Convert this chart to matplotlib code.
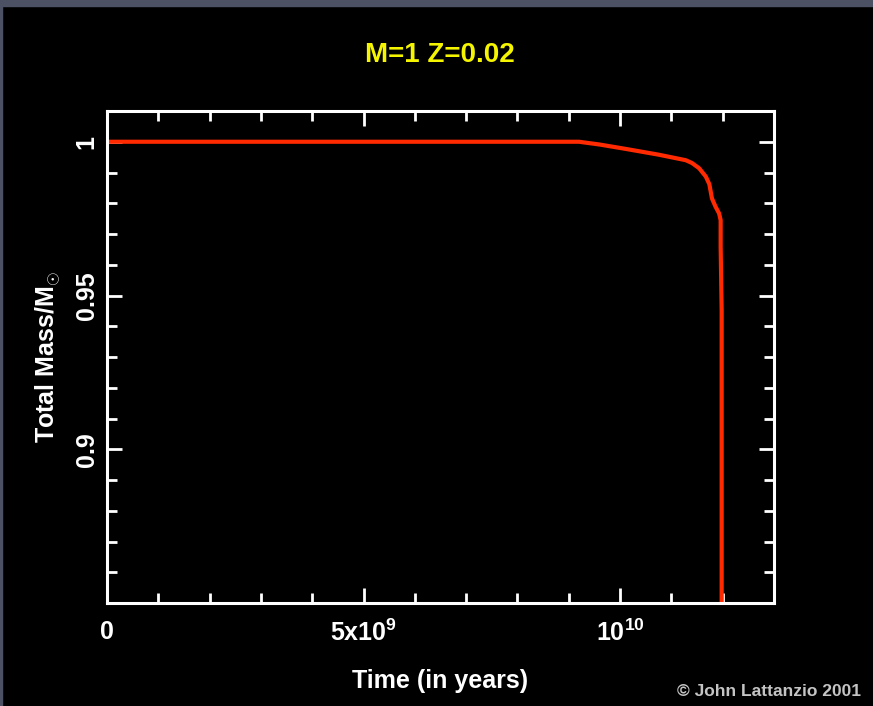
import numpy as np
import matplotlib
matplotlib.use("Agg")
import matplotlib.pyplot as plt
from matplotlib.patches import Rectangle
from matplotlib.ticker import MultipleLocator, FixedLocator, FixedFormatter

# mass loss of a 1 Msun, Z=0.02 star
time_yr = [0.0, 9.2e9, 9.6e9, 10.1e9, 10.75e9, 11.28e9, 11.4e9, 11.54e9,
           11.67e9, 11.74e9, 11.79e9, 11.86e9, 11.93e9, 11.96e9, 11.96e9,
           11.98e9, 11.98e9]
mass = [1.0, 1.0, 0.9991, 0.9977, 0.9958, 0.9940, 0.9931, 0.9914,
        0.9887, 0.9862, 0.9816, 0.9789, 0.9767, 0.9745, 0.966,
        0.945, 0.80]

xticks = [0, 5e9, 1e10]
xlabels = ["0", "5x10$^{9}$", "10$^{10}$"]
yticks = [0.9, 0.95, 1.0]
ylabels = ["0.9", "0.95", "1"]

FONT = 'Liberation Sans'
plt.rcParams['mathtext.fontset'] = 'custom'
plt.rcParams['mathtext.rm'] = FONT + ':bold'
plt.rcParams['mathtext.bf'] = FONT + ':bold'

fig = plt.figure(figsize=(8.73, 7.06), dpi=100)
fig.patch.set_facecolor('black')
# grey slide frame
fig.patches.append(Rectangle((0, 700/706), 1, 6/706, transform=fig.transFigure,
                             color='#4c5263', zorder=0))
fig.patches.append(Rectangle((0, 0), 2/873, 1, transform=fig.transFigure,
                             color='#4c5263', zorder=0))

ax = fig.add_axes([107/873, 103/706, 667/873, 492/706])
ax.set_facecolor('black')
ax.plot(time_yr, mass, color='#ff2a00', lw=3, solid_capstyle='butt')

ax.set_xlim(0, 1.3e10)
ax.set_ylim(0.85, 1.01)

for s in ax.spines.values():
    s.set_color('white')
    s.set_linewidth(2.2)

ax.xaxis.set_major_locator(FixedLocator(xticks))
ax.xaxis.set_major_formatter(FixedFormatter(xlabels))
ax.xaxis.set_minor_locator(MultipleLocator(1e9))
ax.yaxis.set_major_locator(FixedLocator(yticks))
ax.yaxis.set_major_formatter(FixedFormatter(ylabels))
ax.yaxis.set_minor_locator(MultipleLocator(0.01))

ax.tick_params(which='both', direction='in', top=True, right=True,
               colors='white', width=2)
ax.tick_params(which='major', length=11)
ax.tick_params(which='minor', length=7)
ax.tick_params(axis='x', which='major', pad=12, labelsize=18)
ax.tick_params(axis='y', which='major', pad=6, labelsize=18, labelrotation=90)
for lab in ax.get_xticklabels() + ax.get_yticklabels():
    lab.set_family(FONT)
    lab.set_fontweight('bold')
for lab in ax.get_yticklabels():
    lab.set_verticalalignment('center')

ax.set_xlabel("Time (in years)", color='white', fontsize=18,
              family=FONT, fontweight='bold')
ax.xaxis.set_label_coords(0.5, -0.158)
ax.xaxis.label.set_verticalalignment('center')
ax.set_ylabel(r"Total Mass/M$_{\odot}$", color='white', fontsize=18,
              family=FONT, fontweight='bold')
ax.yaxis.set_label_coords(-0.088, 0.5)
ax.yaxis.label.set_verticalalignment('center')

fig.text(440/873, 1 - 55.5/706, "M=1 Z=0.02", color='#f5f500', fontsize=20,
         family=FONT, fontweight='bold', ha='center', va='center')
fig.text(677/873, 1 - 692/706, "\u00a9 John Lattanzio 2001", color='#c4c4c4',
         fontsize=12.5, family=FONT, fontweight='bold',
         ha='left', va='center')

fig.savefig("out.png", dpi=100, facecolor=fig.get_facecolor())
